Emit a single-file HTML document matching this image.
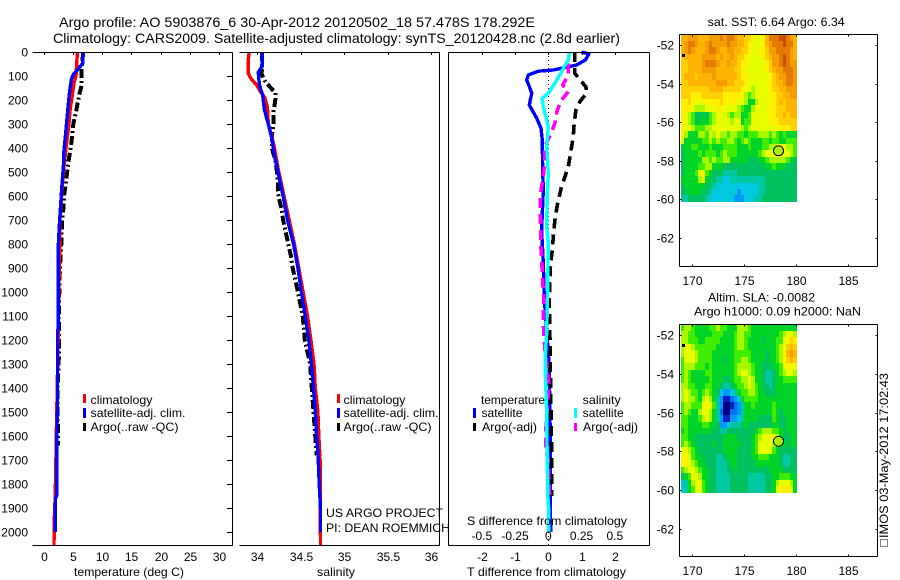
<!DOCTYPE html>
<html lang="en">
<head>
<meta charset="utf-8">
<title>Argo profile</title>
<style>
html,body{margin:0;padding:0;background:#fff;}
svg{display:block;}
text{font-family:"Liberation Sans",sans-serif;font-size:12px;fill:#000;}
</style>
</head>
<body>
<svg id="chart" xmlns="http://www.w3.org/2000/svg" width="900" height="580" viewBox="0 0 900 580">
<rect x="0" y="0" width="900" height="580" fill="#fff"/>
<text x="59" y="27" style="font-size:14px" textLength="476" lengthAdjust="spacingAndGlyphs">Argo profile: AO 5903876_6 30-Apr-2012 20120502_18 57.478S 178.292E</text>
<text x="53" y="43" style="font-size:14px" textLength="567" lengthAdjust="spacingAndGlyphs">Climatology: CARS2009. Satellite-adjusted climatology: synTS_20120428.nc (2.8d earlier)</text>
<g id="heat"></g>
<g id="plots"></g>
<g id="axes"></g>

<text x="74" y="576" textLength="110" lengthAdjust="spacingAndGlyphs">temperature (deg C)</text>
<text x="317" y="576" textLength="38" lengthAdjust="spacingAndGlyphs">salinity</text>
<text x="467" y="576" textLength="159" lengthAdjust="spacingAndGlyphs">T difference from climatology</text>
<text x="467" y="525" textLength="160" lengthAdjust="spacingAndGlyphs">S difference from climatology</text>

<g>
<rect x="83" y="394" width="3" height="9" fill="#f00"/>
<text x="90.5" y="404" textLength="62" lengthAdjust="spacingAndGlyphs">climatology</text>
<rect x="83" y="408" width="3" height="10" fill="#00f"/>
<text x="90.5" y="417" textLength="95" lengthAdjust="spacingAndGlyphs">satellite-adj. clim.</text>
<rect x="83" y="423" width="3" height="8" fill="#000"/>
<text x="90.5" y="431" textLength="88" lengthAdjust="spacingAndGlyphs">Argo(..raw -QC)</text>
</g>
<g>
<rect x="337" y="394" width="3" height="9" fill="#f00"/>
<text x="343.5" y="404" textLength="62" lengthAdjust="spacingAndGlyphs">climatology</text>
<rect x="337" y="408" width="3" height="10" fill="#00f"/>
<text x="343.5" y="417" textLength="95" lengthAdjust="spacingAndGlyphs">satellite-adj. clim.</text>
<rect x="337" y="423" width="3" height="8" fill="#000"/>
<text x="343.5" y="431" textLength="88" lengthAdjust="spacingAndGlyphs">Argo(..raw -QC)</text>
</g>
<g>
<text x="481" y="404" textLength="64" lengthAdjust="spacingAndGlyphs">temperature</text>
<rect x="473" y="408" width="3" height="10" fill="#00f"/>
<text x="481.5" y="417" textLength="41" lengthAdjust="spacingAndGlyphs">satellite</text>
<rect x="473" y="423" width="3" height="8" fill="#000"/>
<text x="482" y="431" textLength="55" lengthAdjust="spacingAndGlyphs">Argo(-adj)</text>
<text x="582.7" y="404" textLength="38" lengthAdjust="spacingAndGlyphs">salinity</text>
<rect x="574" y="408" width="3" height="10" fill="#0ff"/>
<text x="582.7" y="417" textLength="41" lengthAdjust="spacingAndGlyphs">satellite</text>
<rect x="574" y="423" width="3" height="8" fill="#f0f"/>
<text x="583" y="431" textLength="55" lengthAdjust="spacingAndGlyphs">Argo(-adj)</text>
</g>

<text x="326" y="517" textLength="117" lengthAdjust="spacingAndGlyphs">US ARGO PROJECT</text>
<text x="326" y="532" textLength="124" lengthAdjust="spacingAndGlyphs">PI: DEAN ROEMMICH</text>

<text x="707.7" y="26" textLength="137" lengthAdjust="spacingAndGlyphs">sat. SST: 6.64 Argo: 6.34</text>
<text x="708" y="301.7" textLength="107" lengthAdjust="spacingAndGlyphs">Altim. SLA: -0.0082</text>
<text x="694" y="315.7" textLength="167" lengthAdjust="spacingAndGlyphs">Argo h1000: 0.09 h2000: NaN</text>

<rect x="880.5" y="539.5" width="7" height="7" fill="none" stroke="#000" stroke-width="1" stroke-dasharray="1 1"/>
<text transform="translate(888 538) rotate(-90)" x="0" y="0" textLength="165" lengthAdjust="spacingAndGlyphs">IMOS 03-May-2012 17:02:43</text>
</svg>

<script>
// ---------- profile data: depth (dbar) with value at that depth ----------
const tempClimDepth = [0,50,100,130,200,250,300,400,500,600,700,800,900,1000,1200,1450,1500,1730,1850,1950,2054];
const tempClimValue = [5.8,5.67,5.55,5.2,4.8,4.5,4.35,3.85,3.4,3.1,2.8,2.8,2.7,2.6,2.5,2.3,2.25,2.1,2.0,1.85,1.8];
const tempSatDepth = [0,47,76,90,110,158,227,338,408,478,540,615,725,825,1030,1150,1160,1500,1550,1850,1860,2000];
const tempSatValue = [6.8,6.7,5.8,5.2,4.8,4.5,4.2,3.8,3.5,3.4,3.2,3.0,2.7,2.5,2.5,2.55,2.4,2.4,2.3,2.25,2.05,2.0];
const tempArgoDepth = [0,70,140,180,250,300,350,400,450,500,550,600,650,700,800,900,1000,1100,1200,1300,1400,1500,1600,1640];
const tempArgoValue = [6.8,6.5,6.5,6.1,5.55,5.1,4.9,4.65,4.3,4.05,3.8,3.5,3.4,3.2,3.05,2.8,2.7,2.6,2.65,2.6,2.4,2.4,2.5,2.5];

const salClimDepth = [0,30,90,110,140,160,190,230,300,350,400,500,600,700,800,900,1000,1100,1200,1300,1400,1500,1600,1700,2054];
const salClimValue = [33.91,33.9,33.9,33.93,34.0,34.03,34.09,34.12,34.13,34.17,34.2,34.25,34.31,34.37,34.43,34.48,34.53,34.58,34.62,34.655,34.67,34.7,34.71,34.725,34.73];
const salSatDepth = [0,60,75,85,110,140,180,240,300,360,420,500,600,700,800,900,1000,1100,1200,1300,1400,1500,1600,1700,1800,1900,2000];
const salSatValue = [34.06,34.06,34.03,34.015,34.02,34.03,34.065,34.085,34.13,34.17,34.195,34.24,34.3,34.35,34.42,34.47,34.51,34.555,34.595,34.625,34.65,34.67,34.685,34.705,34.715,34.73,34.73];
const salArgoDepth = [0,70,90,120,150,170,200,250,300,350,400,450,500,550,600,650,700,750,800,850,900,1000,1100,1200,1300,1400,1680];
const salArgoValue = [34.06,34.06,34.05,34.09,34.16,34.21,34.21,34.19,34.19,34.17,34.17,34.21,34.23,34.24,34.245,34.28,34.3,34.33,34.36,34.39,34.41,34.47,34.525,34.55,34.61,34.63,34.685];

const dTSatDepth = [0,8,33,54,75,80,96,117,151,172,221,276,318,367,478,575,742,880,1033,1100,1255,1300,1500,2000];
const dTSatValue = [1.0,1.22,1.12,0.85,0.15,-0.3,-0.6,-0.65,-0.55,-0.5,-0.57,-0.35,-0.22,-0.18,-0.17,-0.15,-0.2,-0.15,-0.12,-0.08,0,0.02,0.05,0.07];
const dTArgoDepth = [0,33,89,117,144,172,207,242,297,353,415,478,561,631,700,769,825,880,1033,1200,1400,1640,1850];
const dTArgoValue = [0.8,0.8,0.8,0.95,1.13,1.15,0.95,0.83,0.78,0.75,0.68,0.6,0.4,0.28,0.2,0.15,0.12,0.07,0.03,0.05,0.07,0.1,0.1];
const dSSatDepth = [0,33,68,89,130,172,193,228,269,311,394,505,603,728,797,1000,1172,1255,1350,1500,1700,1850,1900,2000];
const dSSatValue = [0.158,0.15,0.113,0.093,0.05,0,-0.045,-0.038,-0.018,0,-0.012,0,-0.008,-0.012,0,-0.005,-0.012,-0.022,-0.022,-0.012,-0.008,-0.003,0.002,0.002];
const dSArgoDepth = [47,96,137,165,200,242,297,332,394,464,519,589,644,728,797,853,950,1033,1116,1179,1241,1380,1588,1658,1700,1850];
const dSArgoValue = [0.15,0.15,0.108,0.15,0.1,0.068,0.05,0.025,-0.025,-0.028,-0.038,-0.058,-0.06,-0.058,-0.058,-0.05,-0.043,-0.033,-0.038,-0.033,-0.025,0.005,-0.02,-0.02,0,0.01];

// ---------- tick labels ----------
const depthTicks = [0,100,200,300,400,500,600,700,800,900,1000,1100,1200,1300,1400,1500,1600,1700,1800,1900,2000];
const tempTicks = [0,5,10,15,20,25,30];
const salTicks = [34,34.5,35,35.5,36];
const salTickLabels = ['34','34.5','35','35.5','36'];
const dTTicks = [-2,-1,0,1,2];
const dSTicks = [-0.5,-0.25,0,0.25,0.5];
const dSTickLabels = ['-0.5','-0.25','0','0.25','0.5'];
const lonTicks = [170,175,180,185];
const latTicks = [-52,-54,-56,-58,-60,-62];

// ---------- argo float location ----------
const floatLon = [178.29];
const floatLat = [-57.48];
const sectionLon = [169.1];
const sectionLat = [-52.54];

// ---------- map grid coordinates ----------
const gridLonStart = [168.9];
const gridLonStep = [0.338];
const gridLatStart = [-51.46];
const gridLatStep = [0.3333];

// ---------- SST map levels (rows north to south) ----------
const sstGrid = [
[11,11,12,12,12,11,11,11,12,12,12,13,12,13,13,12,11,11,10,10,9,8,8,9,11,13,13,13,14,14,13,12,11],
[11,12,13,13,12,11,11,12,13,12,12,12,12,13,12,12,11,11,10,9,8,8,8,9,11,12,13,13,13,14,13,13,11],
[11,12,13,12,11,11,11,12,13,13,12,11,11,12,12,11,11,10,10,9,8,8,9,9,10,12,12,13,13,13,13,12,11],
[10,11,11,11,11,11,12,12,12,12,11,12,11,11,12,11,10,10,9,8,8,8,8,9,10,11,12,12,13,14,13,12,11],
[10,10,11,11,11,11,12,13,13,13,12,11,11,12,11,11,10,9,9,8,8,8,8,8,9,10,12,12,13,14,13,12,12],
[10,10,11,11,11,11,12,12,12,12,11,11,11,11,11,10,10,9,8,8,8,8,8,8,9,10,11,12,12,13,13,13,12],
[10,11,11,11,10,11,11,11,11,12,11,11,11,11,11,11,10,9,9,8,8,8,8,8,8,9,10,11,12,12,13,13,12],
[10,10,11,11,11,11,11,11,11,11,12,12,12,11,11,10,10,10,9,8,8,8,8,8,8,9,10,11,11,12,13,13,12],
[10,10,10,10,10,10,10,10,11,11,11,11,10,10,10,10,10,9,8,8,7,8,8,8,8,9,10,10,11,11,12,12,12],
[10,10,10,9,9,9,10,10,10,10,10,10,9,9,9,9,9,9,7,6,7,8,8,8,8,9,9,10,10,11,11,12,12],
[9,9,10,9,8,8,8,9,9,9,9,10,9,9,9,9,8,8,7,5,5,7,8,8,8,9,9,10,11,10,11,11,11],
[9,9,9,8,7,7,7,8,8,8,9,9,8,8,8,8,7,6,5,5,7,8,8,8,8,9,9,10,10,10,11,11,11],
[9,8,7,6,4,4,5,4,6,7,8,8,8,7,6,7,7,5,5,6,8,8,8,8,8,9,9,10,10,11,10,11,11],
[9,8,7,6,4,5,5,5,6,7,8,8,8,8,7,8,8,5,6,6,8,8,8,8,8,9,9,9,10,10,10,10,10],
[9,8,8,7,6,6,6,7,7,8,8,8,8,8,8,8,8,7,6,7,8,8,8,8,8,8,8,8,9,9,9,10,10],
[9,7,5,5,5,7,7,6,8,7,8,7,7,6,7,7,6,6,5,6,6,6,7,7,7,6,7,6,5,6,5,5,5],
[8,5,5,5,5,5,6,6,7,6,7,6,6,7,7,6,5,6,7,6,5,5,5,6,6,5,6,6,5,5,6,6,6],
[5,5,5,6,6,5,5,5,6,5,5,5,6,6,6,6,5,5,5,6,5,5,5,6,6,7,7,8,8,8,7,7,6],
[4,5,5,5,5,6,5,6,6,6,5,6,7,6,6,6,5,5,5,5,5,5,6,7,8,8,8,8,9,8,8,7,6],
[4,5,5,5,5,5,7,7,6,7,6,6,7,7,5,5,5,5,5,4,4,4,5,5,6,7,7,7,7,7,6,5,4],
[4,5,5,5,5,6,6,7,7,5,5,5,4,4,4,4,4,4,4,4,4,4,4,4,5,5,6,5,5,5,4,4,4],
[4,5,5,5,6,8,9,6,5,4,4,4,3,3,3,3,4,4,4,4,4,4,4,4,4,4,4,4,4,4,4,4,4],
[5,5,5,5,5,7,8,5,4,4,3,3,2,2,3,3,3,3,3,3,3,3,3,3,4,4,4,4,4,4,4,4,4],
[4,5,5,5,5,5,5,4,4,3,2,2,2,2,2,2,2,2,2,2,2,2,3,3,4,4,4,4,4,4,4,4,4],
[4,4,5,5,5,5,4,4,3,2,2,2,2,2,2,2,1,2,2,2,2,2,3,3,4,4,4,4,4,4,4,4,4],
[3,3,4,4,4,4,4,3,2,2,2,2,2,2,2,1,1,1,2,2,2,3,3,4,4,4,4,4,4,4,4,4,4]
];

// ---------- altimetry SLA map levels (rows north to south) ----------
const slaGrid = [
[8,9,9,8,7,7,7,7,8,8,9,8,8,7,7,7,9,9,9,8,7,7,7,7,7,7,7,7,7,7,7,7,7],
[9,9,8,8,7,7,7,7,7,8,8,8,7,7,7,8,9,9,8,8,7,7,7,7,7,7,7,7,8,9,10,10,9],
[9,9,8,8,8,7,7,8,8,8,8,7,7,7,7,8,9,9,8,7,7,7,7,6,7,7,7,8,8,10,11,12,11],
[9,10,10,9,8,8,8,8,8,8,7,7,7,7,7,8,9,9,8,7,7,7,7,7,7,7,7,8,9,10,12,13,12],
[9,10,10,10,9,8,8,8,8,7,7,7,7,7,7,8,8,8,8,8,7,7,7,7,6,7,7,8,9,11,13,14,13],
[8,10,10,10,9,8,8,8,8,7,7,7,6,7,7,8,8,9,9,8,7,7,7,7,6,7,7,8,9,11,12,13,12],
[8,9,9,9,8,8,8,7,8,7,7,7,7,7,7,8,9,9,9,9,8,7,7,6,6,6,7,7,8,10,11,11,10],
[8,9,8,7,7,7,7,8,8,7,7,7,7,7,7,8,9,10,10,9,8,7,7,6,5,5,6,7,8,9,10,10,9],
[8,9,8,7,7,7,7,7,8,7,7,7,6,6,7,8,8,9,9,10,9,7,7,6,5,5,6,7,7,8,8,8,8],
[9,9,8,8,7,7,7,8,8,7,7,6,5,5,6,7,8,8,9,10,9,8,7,6,6,5,6,7,7,7,7,7,7],
[9,10,9,8,8,7,8,9,8,7,6,4,3,3,4,5,7,8,8,9,9,8,7,7,6,6,6,7,7,7,7,7,7],
[9,10,9,9,8,7,9,10,9,7,5,3,1,1,2,3,4,7,8,8,8,8,7,7,7,7,7,7,7,7,7,7,7],
[8,9,9,8,8,8,10,11,10,8,5,3,0,0,1,2,3,5,7,7,8,7,7,7,7,7,8,7,7,7,7,7,7],
[8,9,8,7,7,9,10,10,9,7,5,2,0,0,2,2,3,5,7,7,7,7,7,7,7,7,8,7,6,7,7,7,7],
[8,8,7,7,7,8,9,10,9,7,5,3,1,1,3,3,4,5,7,7,7,7,6,6,6,6,8,7,6,6,7,7,7],
[8,8,7,7,7,7,8,8,7,7,6,3,3,4,5,5,5,6,7,6,6,6,6,6,6,6,7,7,6,6,7,7,7],
[7,8,7,7,7,7,7,7,7,6,6,5,5,6,6,6,6,6,6,6,6,7,8,9,9,9,8,8,7,6,7,7,7],
[8,8,7,7,6,6,6,6,6,6,6,6,7,7,7,7,6,6,6,6,7,8,9,10,10,10,10,9,7,6,6,7,7],
[8,9,8,7,6,6,6,6,6,7,6,6,7,7,7,7,7,6,6,6,7,8,10,10,10,10,9,8,7,7,6,7,7],
[10,10,9,8,7,6,6,6,6,6,6,6,7,7,7,7,6,6,6,6,7,8,10,10,10,10,8,7,6,6,6,6,6],
[10,11,10,8,7,7,6,6,6,6,5,5,6,7,7,7,6,6,6,6,7,7,8,8,8,7,7,7,6,5,5,6,6],
[10,11,10,9,8,7,7,6,6,6,5,5,5,6,7,7,6,6,6,6,6,7,7,7,7,7,7,7,6,5,5,6,6],
[8,9,10,10,9,8,7,7,6,6,5,5,5,6,6,7,6,6,6,6,6,6,6,6,6,7,7,7,7,6,6,6,6],
[6,7,8,10,10,9,7,7,6,6,5,5,5,5,6,6,6,6,6,5,5,5,5,5,6,6,7,7,8,8,8,7,7],
[4,5,7,9,10,10,8,7,6,6,5,5,5,5,6,6,6,6,6,5,5,5,5,5,6,6,7,9,10,10,10,9,7],
[4,5,7,8,10,10,8,7,6,6,5,5,5,5,6,6,6,6,6,5,5,5,5,5,6,6,7,10,11,11,11,10,7]
];
const sstLevelOffset = [2];
const levelColors = ['#000080','#0020c0','#0070f0','#0098ff','#00c8e0','#00c8a0','#00c060','#00d428','#40ec00','#a8f800','#e8ff00','#fff000','#ffd000','#ffb400','#f59c00','#e57a00','#c85000'];

// ---------- axis functions ----------
const SVGNS = 'http://www.w3.org/2000/svg';
const depthY = d => 52 + d * 0.24;
const tempX = v => 43.5 + v * 5.85;
const salX = v => 257 + (v - 34) * 87;
const dTX = v => 548.3 + v * 33.25;
const dSX = v => 548.3 + v * 133;
const lonX = v => 692.3 + (v - 170) * 10.4;
const latYTop = v => 45 + (-52 - v) * 19.3;
const latYBottom = v => 335 + (-52 - v) * 19.4;

const plots = document.getElementById('plots');
const axes = document.getElementById('axes');
const heat = document.getElementById('heat');

function make(tag, parent, attrs, text) {
  const el = document.createElementNS(SVGNS, tag);
  for (const k in attrs) el.setAttribute(k, attrs[k]);
  if (text !== undefined) el.textContent = text;
  parent.appendChild(el);
  return el;
}

function drawLine(parent, name, depths, values, xFn, color, width, dash) {
  const pts = depths.map((d, i) => xFn(values[i]).toFixed(1) + ',' + depthY(d).toFixed(1)).join(' ');
  const el = make('polyline', parent, {points: pts, fill: 'none', stroke: color, 'stroke-width': width, 'stroke-linejoin': 'round', 'shape-rendering': 'crispEdges'});
  if (dash) el.setAttribute('stroke-dasharray', dash);
  
  
}

// temperature panel
drawLine(plots, 'temperature-argo-line', tempArgoDepth, tempArgoValue, tempX, '#000', 4, '9 3 2 3');
drawLine(plots, 'temperature-climatology-line', tempClimDepth, tempClimValue, tempX, '#f00', 3.4);
drawLine(plots, 'temperature-satellite-line', tempSatDepth, tempSatValue, tempX, '#00f', 3.4);
// salinity panel
drawLine(plots, 'salinity-argo-line', salArgoDepth, salArgoValue, salX, '#000', 4, '9 3 2 3');
drawLine(plots, 'salinity-climatology-line', salClimDepth, salClimValue, salX, '#f00', 3.4);
drawLine(plots, 'salinity-satellite-line', salSatDepth, salSatValue, salX, '#00f', 3.4);
// difference panel
const zeroLine = make('line', plots, {x1: dTX(0), x2: dTX(0), y1: 52, y2: 545, stroke: '#000', 'stroke-width': 1, 'stroke-dasharray': '1 3', 'shape-rendering': 'crispEdges'});


drawLine(plots, 'difference-t-satellite-line', dTSatDepth, dTSatValue, dTX, '#00f', 3.4);
drawLine(plots, 'difference-t-argo-line', dTArgoDepth, dTArgoValue, dTX, '#000', 3.6, '10 6');
drawLine(plots, 'difference-s-argo-line', dSArgoDepth, dSArgoValue, dSX, '#f0f', 3.6, '10 6');
drawLine(plots, 'difference-s-satellite-line', dSSatDepth, dSSatValue, dSX, '#0ff', 3.4);

// panel frames
function frameLine(name, x1, y1, x2, y2) {
  const el = make('line', axes, {x1, y1, x2, y2, stroke: '#000', 'stroke-width': 1, 'shape-rendering': 'crispEdges'});
  
  
}
function tickLine(x1, y1, x2, y2) {
  const el = make('line', axes, {x1, y1, x2, y2, stroke: '#000', 'stroke-width': 1, 'shape-rendering': 'crispEdges'});
  
  
}
function tickLabel(txt, x, y, anchor) {
  const el = make('text', axes, {x, y, 'text-anchor': anchor}, txt);
  
  
}

// temperature frame
frameLine('temperature-top-axis', 32.5, 52.5, 232.5, 52.5);
frameLine('temperature-bottom-axis', 32.5, 545.5, 232.5, 545.5);
frameLine('temperature-right-axis', 232.5, 52.5, 232.5, 545.5);
depthTicks.forEach(d => {
  const y = Math.round(depthY(d)) + 0.5;
  tickLine(227, y, 232, y);
  tickLabel(String(d), 28, y + 4, 'end');
});
tempTicks.forEach((t, i) => {
  const x = Math.round(tempX(t)) + 0.5;
  tickLine(x, 52, x, 55);
  tickLabel(String(t), x, 561, 'middle');
});

// salinity frame
frameLine('salinity-top-axis', 239.5, 52.5, 439.5, 52.5);
frameLine('salinity-bottom-axis', 239.5, 545.5, 439.5, 545.5);
frameLine('salinity-right-axis', 439.5, 52.5, 439.5, 545.5);
salTicks.forEach((t, i) => {
  const x = Math.round(salX(t)) + 0.5;
  tickLine(x, 52, x, 55);
  tickLabel(salTickLabels[i], x, 561, 'middle');
});

// difference frame
frameLine('difference-top-axis', 448.5, 52.5, 649.5, 52.5);
frameLine('difference-bottom-axis', 448.5, 545.5, 649.5, 545.5);
frameLine('difference-left-axis', 448.5, 52.5, 448.5, 545.5);
frameLine('difference-right-axis', 649.5, 52.5, 649.5, 545.5);
dTTicks.forEach(t => {
  const x = Math.round(dTX(t)) + 0.5;
  tickLine(x, 52, x, 55);
  tickLabel(String(t), x, 561, 'middle');
});
dSTicks.forEach((t, i) => {
  tickLabel(dSTickLabels[i], dSX(t), 540, 'middle');
});

// heatmaps
function drawGrid(grid, offset, latY, name) {
  const lonStart = gridLonStart[0], lonStep = gridLonStep[0];
  const latStart = gridLatStart[0], latStep = gridLatStep[0];
  grid.forEach((row, r) => {
    row.forEach((v, c) => {
      const x0 = Math.round(lonX(lonStart + c * lonStep));
      const x1 = Math.round(lonX(lonStart + (c + 1) * lonStep));
      const y0 = Math.round(latY(latStart - r * latStep));
      const y1 = Math.round(latY(latStart - (r + 1) * latStep));
      const idx = Math.max(0, Math.min(levelColors.length - 1, Math.round(v + offset)));
      const cell = make('rect', heat, {x: x0, y: y0, width: x1 - x0, height: y1 - y0, fill: levelColors[idx], 'shape-rendering': 'crispEdges'});
      
      
    });
  });
}
drawGrid(sstGrid, sstLevelOffset[0], latYTop, 'sst-heatmap-cell');
drawGrid(slaGrid, 0, latYBottom, 'sla-heatmap-cell');

// map frames, ticks and markers
function drawMap(prefix, top, bottom, latY, labelY) {
  const L = 679.5, R = 877.5;
  frameLine(prefix + '-top-axis', L, top, R, top);
  frameLine(prefix + '-bottom-axis', L, bottom, R, bottom);
  frameLine(prefix + '-left-axis', L, top, L, bottom);
  frameLine(prefix + '-right-axis', R, top, R, bottom);
  lonTicks.forEach(t => {
    const x = Math.round(lonX(t)) + 0.5;
    tickLine(x, top, x, top + 2);
    tickLine(x, bottom - 2, x, bottom);
    tickLabel(String(t), x, labelY, 'middle');
  });
  latTicks.forEach(t => {
    const y = Math.round(latY(t)) + 0.5;
    tickLine(L, y, L + 2, y);
    tickLine(R - 2, y, R, y);
    tickLabel(String(t), 674, y + 4, 'end');
  });
  const dot = make('rect', axes, {x: Math.round(lonX(sectionLon[0])) - 1, y: Math.round(latY(sectionLat[0])) - 1, width: 3, height: 3, fill: '#000'});
  
  
  const marker = make('circle', axes, {cx: lonX(floatLon[0]), cy: latY(floatLat[0]), r: 5, fill: '#a8f000', stroke: '#000', 'stroke-width': 1, 'shape-rendering': 'crispEdges'});
  
  
}
drawMap('sst-map', 34.5, 266.5, latYTop, 285);
drawMap('sla-map', 324.5, 556.5, latYBottom, 575);
</script>
</body>
</html>
